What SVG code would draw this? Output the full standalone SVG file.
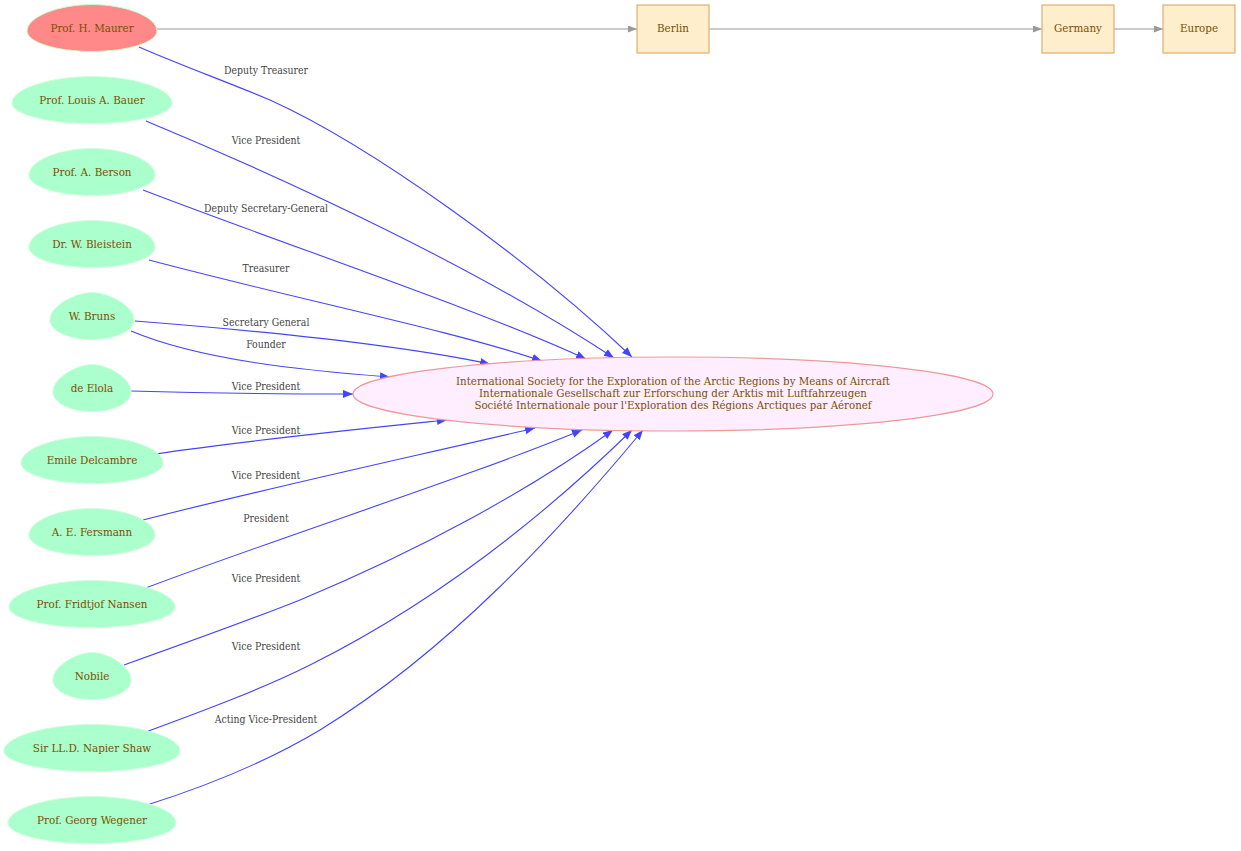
<svg xmlns="http://www.w3.org/2000/svg" width="1241" height="851" viewBox="0 0 1241 851">
<style>
.bg{fill:#ffffff}
.person path{fill:#aaffcc;stroke:#ccffdd;stroke-width:1}
#n_maurer path{fill:#ff8888;stroke:#ccffcc}
.nt{font-family:"DejaVu Serif","Liberation Serif",serif;font-stretch:condensed;font-size:11.5px;fill:#7a5000;text-anchor:middle}
.bt{font-family:"DejaVu Serif","Liberation Serif",serif;font-stretch:condensed;font-size:11.5px;fill:#7a5000;text-anchor:middle}
.ct{font-family:"DejaVu Serif","Liberation Serif",serif;font-stretch:condensed;font-size:11.4px;fill:#7a5000;text-anchor:middle}
.box rect{fill:#ffeecc;stroke:#ddb070;stroke-width:1.2}
.el{font-family:"DejaVu Serif","Liberation Serif",serif;font-stretch:condensed;font-size:10.4px;fill:#444444;text-anchor:middle}
.be{fill:none;stroke:#4444ff;stroke-width:1.1}
.ge{fill:none;stroke:#999999;stroke-width:1.2}
</style>
<defs>
<marker id="ab" markerUnits="userSpaceOnUse" markerWidth="12" markerHeight="10" refX="10" refY="4" orient="auto">
<path d="M0,0 L10,4 L0,8 Z" fill="#4444ff"/>
</marker>
<marker id="ag" markerUnits="userSpaceOnUse" markerWidth="12" markerHeight="10" refX="9" refY="3.5" orient="auto">
<path d="M0,0 L9,3.5 L0,7 Z" fill="#999999"/>
</marker>
</defs>
<rect class="bg" x="0" y="0" width="1241" height="851"/>

<g id="connectors">
<path class="ge" d="M157,29 L637,29" marker-end="url(#ag)"/>
<path class="ge" d="M709,29 L1042,29" marker-end="url(#ag)"/>
<path class="ge" d="M1114,29 L1163,29" marker-end="url(#ag)"/>

<path class="be" d="M139,47 C180,65 230,83 270,100 C370,145 530,260 632,357" marker-end="url(#ab)"/>
<text class="el" x="266" y="74">Deputy Treasurer</text>
<path class="be" d="M146,121 C300,185 480,270 614,358" marker-end="url(#ab)"/>
<text class="el" x="266" y="144">Vice President</text>
<path class="be" d="M143,190 C300,250 480,310 586,359" marker-end="url(#ab)"/>
<text class="el" x="266" y="212">Deputy Secretary-General</text>
<path class="be" d="M149,260 C300,300 450,330 542,361" marker-end="url(#ab)"/>
<text class="el" x="266" y="272">Treasurer</text>
<path class="be" d="M135,321 C250,330 400,345 490,364" marker-end="url(#ab)"/>
<text class="el" x="266" y="326">Secretary General</text>
<path class="be" d="M131,331 C200,360 300,370 390,377" marker-end="url(#ab)"/>
<text class="el" x="266" y="348">Founder</text>
<path class="be" d="M131,391 C200,393 280,394 353,394" marker-end="url(#ab)"/>
<text class="el" x="266" y="390">Vice President</text>
<path class="be" d="M155,454 C250,440 350,430 447,420" marker-end="url(#ab)"/>
<text class="el" x="266" y="434">Vice President</text>
<path class="be" d="M143,520 C280,485 420,455 535,428" marker-end="url(#ab)"/>
<text class="el" x="266" y="479">Vice President</text>
<path class="be" d="M143,589 C300,530 460,480 582,430" marker-end="url(#ab)"/>
<text class="el" x="266" y="522">President</text>
<path class="be" d="M124,665 C180,645 250,620 300,600 C420,550 530,490 613,430" marker-end="url(#ab)"/>
<text class="el" x="266" y="582">Vice President</text>
<path class="be" d="M146,732 C200,712 260,690 310,665 C440,600 550,510 632,430" marker-end="url(#ab)"/>
<text class="el" x="266" y="650">Vice President</text>
<path class="be" d="M147,805 C210,785 270,760 320,730 C450,650 560,530 643,430" marker-end="url(#ab)"/>
<text class="el" x="266" y="723">Acting Vice-President</text>
</g>

<g id="n_maurer" class="person" transform="translate(92,28)">
<path d="M-65,3 C-65,-11.6 -32.5,-23.5 0,-23.5 C32.5,-23.5 65,-11.6 65,3 C65,14.3 35.9,23.5 0,23.5 C-35.9,23.5 -65,14.3 -65,3 Z"/>
<text class="nt" x="0" y="4">Prof. H. Maurer</text>
</g>
<g id="n_bauer" class="person" transform="translate(92,100)">
<path d="M-80,3 C-80,-11.6 -40,-23.5 0,-23.5 C40,-23.5 80,-11.6 80,3 C80,14.3 44.2,23.5 0,23.5 C-44.2,23.5 -80,14.3 -80,3 Z"/>
<text class="nt" x="0" y="4">Prof. Louis A. Bauer</text>
</g>
<g id="n_berson" class="person" transform="translate(92,172)">
<path d="M-63,3 C-63,-11.6 -31.5,-23.5 0,-23.5 C31.5,-23.5 63,-11.6 63,3 C63,14.3 34.8,23.5 0,23.5 C-34.8,23.5 -63,14.3 -63,3 Z"/>
<text class="nt" x="0" y="4">Prof. A. Berson</text>
</g>
<g id="n_bleistein" class="person" transform="translate(92,244)">
<path d="M-63,3 C-63,-11.6 -31.5,-23.5 0,-23.5 C31.5,-23.5 63,-11.6 63,3 C63,14.3 34.8,23.5 0,23.5 C-34.8,23.5 -63,14.3 -63,3 Z"/>
<text class="nt" x="0" y="4">Dr. W. Bleistein</text>
</g>
<g id="n_bruns" class="person" transform="translate(92,316)">
<path d="M-42,4 C-42,-11 -15,-23.5 0,-23.5 C15,-23.5 42,-11 42,4 C42,14.8 23.2,23.5 0,23.5 C-23.2,23.5 -42,14.8 -42,4 Z"/>
<text class="nt" x="0" y="4">W. Bruns</text>
</g>
<g id="n_elola" class="person" transform="translate(92,388)">
<path d="M-39,4 C-39,-11 -14,-23.5 0,-23.5 C14,-23.5 39,-11 39,4 C39,14.8 21.5,23.5 0,23.5 C-21.5,23.5 -39,14.8 -39,4 Z"/>
<text class="nt" x="0" y="4">de Elola</text>
</g>
<g id="n_delcambre" class="person" transform="translate(92,460)">
<path d="M-71,3 C-71,-11.6 -35.5,-23.5 0,-23.5 C35.5,-23.5 71,-11.6 71,3 C71,14.3 39.2,23.5 0,23.5 C-39.2,23.5 -71,14.3 -71,3 Z"/>
<text class="nt" x="0" y="4">Emile Delcambre</text>
</g>
<g id="n_fersmann" class="person" transform="translate(92,532)">
<path d="M-63,3 C-63,-11.6 -31.5,-23.5 0,-23.5 C31.5,-23.5 63,-11.6 63,3 C63,14.3 34.8,23.5 0,23.5 C-34.8,23.5 -63,14.3 -63,3 Z"/>
<text class="nt" x="0" y="4">A. E. Fersmann</text>
</g>
<g id="n_nansen" class="person" transform="translate(92,604)">
<path d="M-83,3 C-83,-11.6 -41.5,-23.5 0,-23.5 C41.5,-23.5 83,-11.6 83,3 C83,14.3 45.8,23.5 0,23.5 C-45.8,23.5 -83,14.3 -83,3 Z"/>
<text class="nt" x="0" y="4">Prof. Fridtjof Nansen</text>
</g>
<g id="n_nobile" class="person" transform="translate(92,676)">
<path d="M-39,4 C-39,-11 -14,-23.5 0,-23.5 C14,-23.5 39,-11 39,4 C39,14.8 21.5,23.5 0,23.5 C-21.5,23.5 -39,14.8 -39,4 Z"/>
<text class="nt" x="0" y="4">Nobile</text>
</g>
<g id="n_shaw" class="person" transform="translate(92,748)">
<path d="M-88,3 C-88,-11.6 -44,-23.5 0,-23.5 C44,-23.5 88,-11.6 88,3 C88,14.3 48.6,23.5 0,23.5 C-48.6,23.5 -88,14.3 -88,3 Z"/>
<text class="nt" x="0" y="4">Sir LL.D. Napier Shaw</text>
</g>
<g id="n_wegener" class="person" transform="translate(92,820)">
<path d="M-84,3 C-84,-11.6 -42,-23.5 0,-23.5 C42,-23.5 84,-11.6 84,3 C84,14.3 46.4,23.5 0,23.5 C-46.4,23.5 -84,14.3 -84,3 Z"/>
<text class="nt" x="0" y="4">Prof. Georg Wegener</text>
</g>

<g id="n_society">
<ellipse cx="673" cy="394" rx="320" ry="37" fill="#ffeeff" stroke="#ee9999" stroke-width="1.2"/>
<text class="ct" x="673" y="385">International Society for the Exploration of the Arctic Regions by Means of Aircraft</text>
<text class="ct" x="673" y="397">Internationale Gesellschaft zur Erforschung der Arktis mit Luftfahrzeugen</text>
<text class="ct" x="673" y="409">Société Internationale pour l'Exploration des Régions Arctiques par Aéronef</text>
</g>

<g id="n_berlin" class="box">
<rect x="637" y="5" width="72" height="48"/>
<text class="bt" x="673" y="32">Berlin</text>
</g>
<g id="n_germany" class="box">
<rect x="1042" y="5" width="72" height="48"/>
<text class="bt" x="1078" y="32">Germany</text>
</g>
<g id="n_europe" class="box">
<rect x="1163" y="5" width="72" height="48"/>
<text class="bt" x="1199" y="32">Europe</text>
</g>
</svg>
